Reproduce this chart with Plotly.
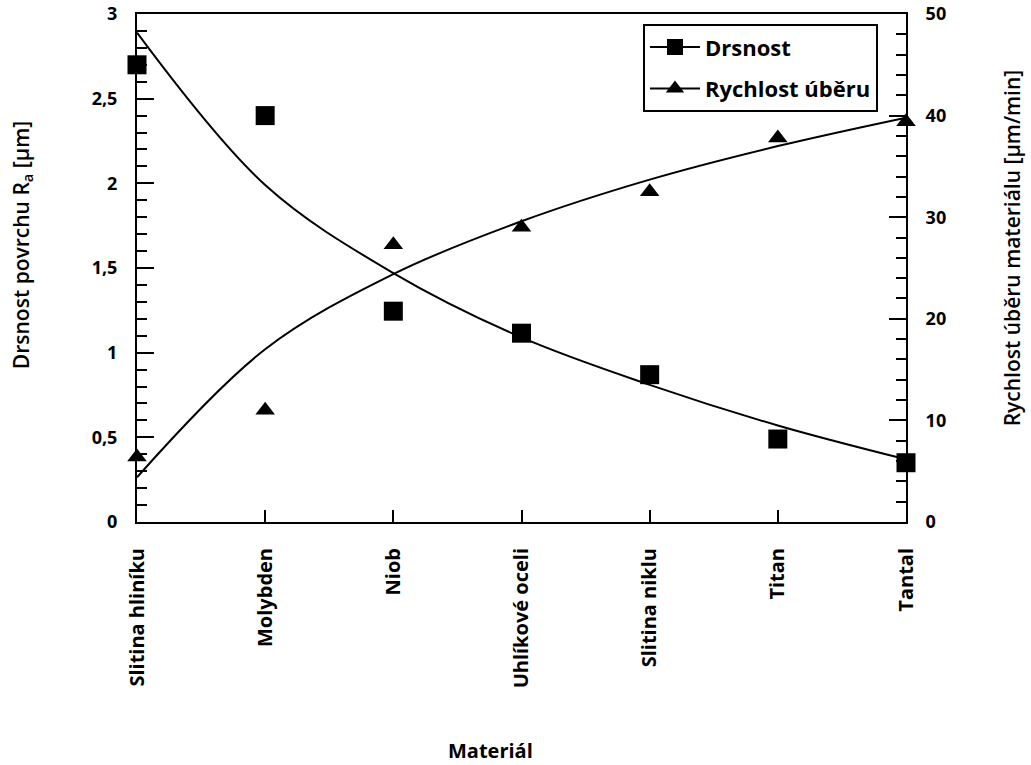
import plotly.graph_objects as go

materials = ["Slitina hliníku", "Molybden", "Niob", "Uhlíkové oceli",
             "Slitina niklu", "Titan", "Tantal"]
drsnost = [2.70, 2.40, 1.245, 1.115, 0.87, 0.49, 0.35]
rychlost = [6.4, 11.0, 27.3, 29.0, 32.5, 37.8, 39.4]
# logarithmic trend lines read at each category
drsnost_trend = [2.89, 1.99, 1.47, 1.09, 0.81, 0.57, 0.37]
rychlost_trend = [4.4, 17.0, 24.4, 29.6, 33.7, 37.0, 39.8]

FONT = "Open Sans"
fig = go.Figure()

fig.add_trace(go.Scatter(x=materials, y=drsnost_trend, mode="lines", line=dict(color="black", width=2, shape="spline"),
                         showlegend=False, hoverinfo="skip"))
fig.add_trace(go.Scatter(x=materials, y=rychlost_trend, mode="lines", yaxis="y2",
                         line=dict(color="black", width=2, shape="spline"), showlegend=False, hoverinfo="skip"))
fig.add_trace(go.Scatter(x=materials, y=drsnost, mode="markers", name="Drsnost", showlegend=False,
                         marker=dict(symbol="square", size=19, color="black"), cliponaxis=False))
fig.add_trace(go.Scatter(x=materials, y=rychlost, mode="markers", name="Rychlost úběru", yaxis="y2", showlegend=False,
                         marker=dict(symbol="triangle-up", size=17, color="black"), cliponaxis=False))
# legend entries
fig.add_trace(go.Scatter(x=[None], y=[None], mode="lines+markers", name="Drsnost", legendgroup="a",
                         line=dict(color="black", width=2), marker=dict(symbol="square", size=16, color="black")))
fig.add_trace(go.Scatter(x=[None], y=[None], mode="lines+markers", name="Rychlost úběru", legendgroup="b",
                         line=dict(color="black", width=2), marker=dict(symbol="triangle-up", size=16, color="black")))

fig.update_layout(
    width=1031, height=765,
    margin=dict(l=137, r=125, t=14, b=243, autoexpand=False),
    paper_bgcolor="white", plot_bgcolor="white",
    separators=", ",
    font=dict(family=FONT, color="black", size=16),
    showlegend=True,
    legend=dict(x=0.658, y=0.98, xanchor="left", yanchor="top", bordercolor="black", borderwidth=2,
                font=dict(family=FONT, size=22, weight="bold"), bgcolor="white",
                traceorder="grouped", tracegroupgap=10, itemwidth=50),
    xaxis=dict(type="category", range=[0, 6], showgrid=False, showline=True, linecolor="black", linewidth=2,
               mirror=True, ticks="inside", ticklen=12, tickwidth=1.5, tickcolor="black",
               tickangle=-90, ticklabelstandoff=16, automargin=False, ticklabeloverflow="allow",
               tickfont=dict(family=FONT, size=20, weight="bold")),
    yaxis=dict(range=[0, 3], dtick=0.5, showgrid=False, zeroline=False, showline=True, linecolor="black",
               linewidth=2, ticks="inside", ticklen=17, tickwidth=2, tickcolor="black",
               ticklabelstandoff=14, automargin=False, ticklabeloverflow="allow",
               minor=dict(dtick=0.1, ticks="inside", ticklen=10, tickwidth=2, tickcolor="black"),
               tickfont=dict(family=FONT, size=18, weight="bold")),
    yaxis2=dict(range=[0, 50], dtick=10, overlaying="y", side="right", showgrid=False, zeroline=False,
                showline=True, linecolor="black", linewidth=2, ticks="inside", ticklen=17, tickwidth=2,
                tickcolor="black", ticklabelstandoff=14, automargin=False, ticklabeloverflow="allow",
                minor=dict(dtick=2, ticks="inside", ticklen=10, tickwidth=2, tickcolor="black"),
                tickfont=dict(family=FONT, size=18, weight="bold")),
    annotations=[
        dict(text="Materiál", xref="paper", yref="paper", x=0.46, y=-0.449, showarrow=False,
             font=dict(family=FONT, size=20, weight="bold"), xanchor="center", yanchor="middle"),
        dict(text="Drsnost povrchu R<sub>a</sub> [µm]", xref="paper", yref="paper", x=-0.1495, y=0.545,
             textangle=-90, showarrow=False, font=dict(family=FONT, size=21, weight=600),
             xanchor="center", yanchor="middle"),
        dict(text="Rychlost úběru materiálu [µm/min]", xref="paper", yref="paper", x=1.138, y=0.539,
             textangle=-90, showarrow=False, font=dict(family=FONT, size=21, weight=600),
             xanchor="center", yanchor="middle"),
    ],
)

fig.write_html("out.html", config={"displayModeBar": False},
               post_script="document.body.style.margin='0';")
